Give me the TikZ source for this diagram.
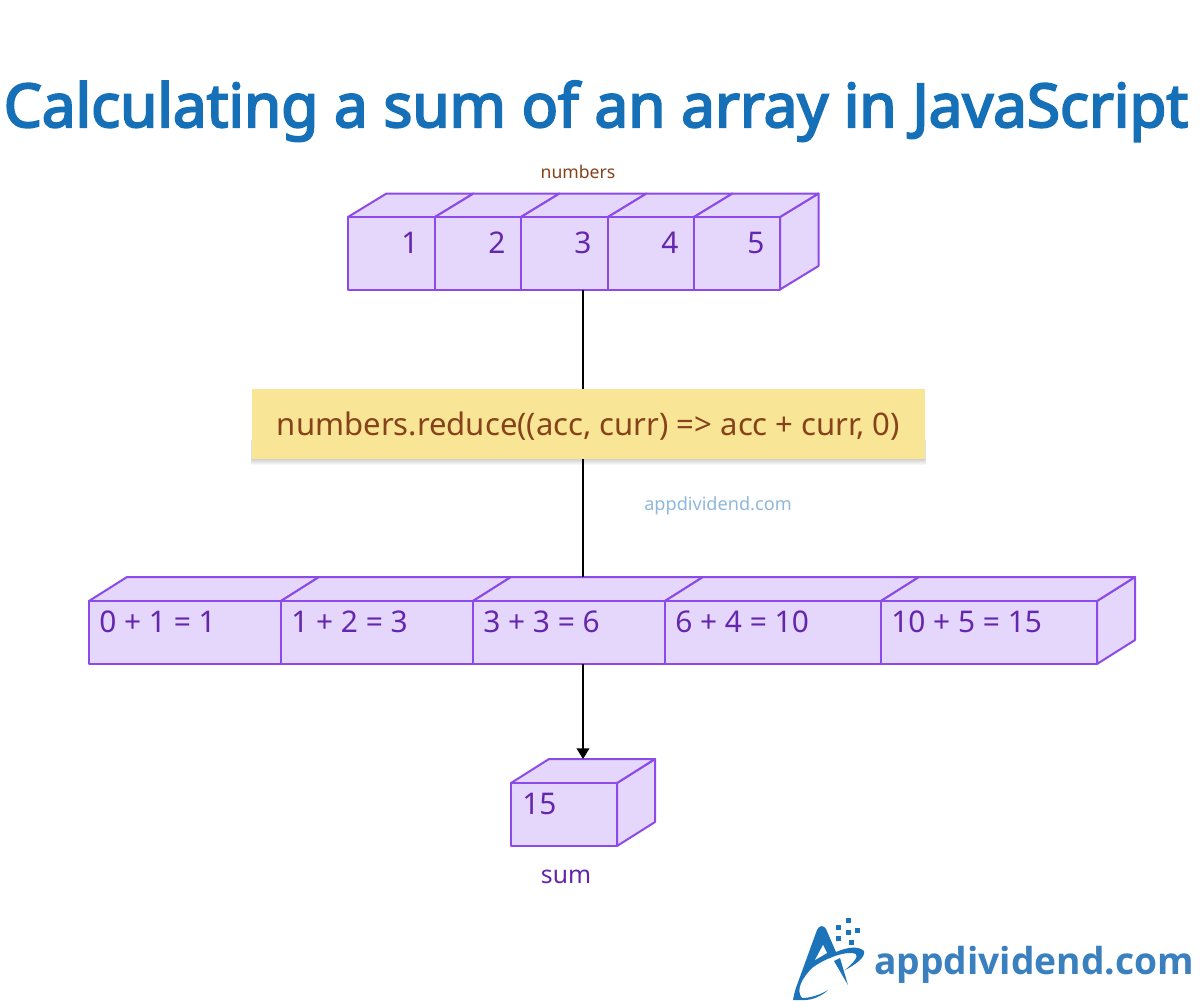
\documentclass[tikz,border=0pt]{standalone}
\usepackage{fontspec}
\setmainfont{Noto Sans}
\newfontfamily\titlefont[FakeBold=3.4]{Noto Sans}
\newfontfamily\logofont{Open Sans}
\usetikzlibrary{arrows.meta}
\definecolor{titleblue}{HTML}{1570B8}
\definecolor{logoblue}{HTML}{3A80BF}
\definecolor{markblue}{HTML}{1B73BA}
\definecolor{cubefill}{HTML}{E5D6FB}
\definecolor{cubeline}{HTML}{8C4BE8}
\definecolor{cubetext}{HTML}{6526AE}
\definecolor{notefill}{HTML}{F9E596}
\definecolor{notetext}{HTML}{86431B}
\definecolor{wmark}{HTML}{8FB9DC}
\tikzset{
  cell/.style={draw=cubeline,fill=cubefill,line width=1.5pt,line join=round,inner sep=0pt,outer sep=0pt},
  celltext/.style={text=cubetext,font=\fontsize{22.4}{23}\selectfont,inner sep=0pt,anchor=base},
  rowtext/.style={celltext,anchor=base west},
  cubeside/.style={draw=cubeline,fill=cubefill,line width=1.5pt,line join=round},
  link/.style={draw=black,line width=1.1pt},
  note/.style={fill=notefill,inner sep=0pt,outer sep=0pt,minimum width=504.75pt,minimum height=52.5pt},
  notelabel/.style={inner sep=0pt,text=notetext,font=\fontsize{23.3}{24}\selectfont},
  logomark/.style={fill=markblue,draw=none}
}
% cell{name}{x0}{x1}{ytop}{ybottom}{dx}{dy}: one front face with its top face
\newcommand{\cubecell}[7]{%
  \draw[cubeside] (#2,#4) -- ++(#6,-#7) -- (#3+#6,#4-#7) -- (#3,#4) -- cycle;
  \node[cell,anchor=north west,minimum width={(#3-#2)*0.75pt},minimum height={(#5-#4)*0.75pt}] (#1) at (#2,#4) {};
}
% right side of a cube
\newcommand{\cubeend}[5]{%
  \draw[cubeside] (#1,#2) -- ++(#4,-#5) -- (#1+#4,#3-#5) -- (#1,#3) -- cycle;
}
\begin{document}
\begin{tikzpicture}[x=0.75pt,y=-0.75pt]
\useasboundingbox (0,0) rectangle (1200,1000);
\fill[white] (0,0) rectangle (1200,1000);

\node[text=titleblue,font=\fontsize{45.2}{46}\titlefont,inner sep=0pt,anchor=base] (title) at (596,127) {Calculating a sum of an array in JavaScript};

\node[text=notetext,font=\fontsize{13.2}{14}\selectfont,inner sep=0pt,anchor=base] (numlabel) at (578,178) {numbers};

% upper array
\cubeend{780}{217}{289.5}{38.5}{23.5}
\cubecell{a1}{348}{435}{217}{289.5}{38.5}{23.5}
\cubecell{a2}{435}{521}{217}{289.5}{38.5}{23.5}
\cubecell{a3}{521}{608}{217}{289.5}{38.5}{23.5}
\cubecell{a4}{608}{694}{217}{289.5}{38.5}{23.5}
\cubecell{a5}{694}{780}{217}{289.5}{38.5}{23.5}
\node[celltext] (t1) at (410,253) {1};
\node[celltext] (t2) at (497,253) {2};
\node[celltext] (t3) at (583,253) {3};
\node[celltext] (t4) at (670,253) {4};
\node[celltext] (t5) at (756,253) {5};

% reduce note
\foreach \g in {6,5,4,3,2,1}{
  \fill[black,opacity=0.03] (252-\g*0.2,440) rectangle (925+\g*0.2,459+\g);
}
\node[note] (note) at (588.5,424) {};
\node[notelabel] (notetxt) at (588.5,426) {numbers.reduce((acc, curr) => acc + curr, 0)};
\node[text=wmark,font=\fontsize{13.6}{14}\selectfont,inner sep=0pt,anchor=base] (wm) at (718,510) {appdividend.com};

% lower array
\cubeend{1097}{601}{664}{38}{24}
\cubecell{b1}{89}{281}{601}{664}{38}{24}
\cubecell{b2}{281}{473}{601}{664}{38}{24}
\cubecell{b3}{473}{665}{601}{664}{38}{24}
\cubecell{b4}{665}{881}{601}{664}{38}{24}
\cubecell{b5}{881}{1097}{601}{664}{38}{24}
\node[rowtext] (s1) at (99,632) {0 + 1 = 1};
\node[rowtext] (s2) at (291,632) {1 + 2 = 3};
\node[rowtext] (s3) at (483,632) {3 + 3 = 6};
\node[rowtext] (s4) at (675,632) {6 + 4 = 10};
\node[rowtext] (s5) at (891,632) {10 + 5 = 15};

% sum
\cubeend{617}{783}{846}{38}{24}
\cubecell{c1}{511}{617}{783}{846}{38}{24}
\node[rowtext] (r) at (522,814) {15};
\node[celltext,font=\fontsize{18.5}{19}\selectfont] (sumlabel) at (566,883) {sum};

% connectors
\coordinate (p1) at (583,289.5);
\coordinate (p2) at (583,389);
\coordinate (p3) at (583,459);
\coordinate (p4) at (583,577);
\coordinate (p5) at (583,664);
\coordinate (p6) at (583,759);
\draw[link] (p1) -- (p2);
\draw[link] (p3) -- (p4);
\draw[link,-{Triangle[length=8pt,width=9.5pt]}] (p5) -- (p6);

% logo
\fill[logomark] (793,1000) .. controls (794,995) and (795,990) .. (797,985) -- (817,930)
  .. controls (819,925) and (824,925) .. (826,929) -- (836,952)
  .. controls (845,948) and (858,945) .. (864,951)
  .. controls (866,957) and (855,965) .. (845,970)
  .. controls (852,964) and (859,957) .. (856,954)
  .. controls (848,950) and (825,958) .. (812,968)
  .. controls (803,977) and (795,990) .. (802,998)
  .. controls (810,998) and (820,995) .. (828,990)
  .. controls (822,996) and (812,1000) .. (805,1000) -- cycle;
\fill[white] (823,945) -- (827,953) -- (815,960) -- cycle;
\fill[logomark] (834,961) -- (840,958) -- (848,985) -- cycle;
\foreach \x/\y in {848/920,838/927,857/930,848/932,838/938,851/942}{
  \fill[logomark] (\x-2.5,\y-2.5) rectangle (\x+2.5,\y+2.5);
}
\node[text=logoblue,font=\fontsize{27.9}{28}\logofont\bfseries,inner sep=0pt,anchor=base] (logo) at (1034,974) {appdividend.com};
\end{tikzpicture}
\end{document}
